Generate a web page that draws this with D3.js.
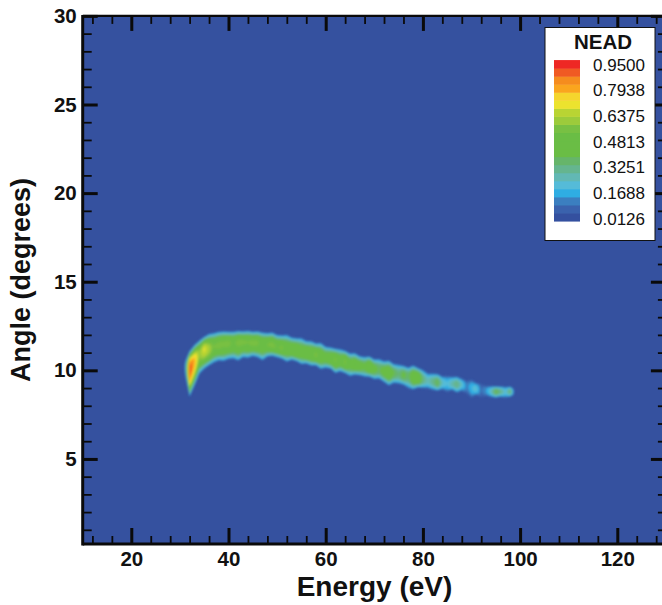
<!DOCTYPE html>
<html>
<head>
<meta charset="utf-8">
<script src="https://cdn.jsdelivr.net/npm/d3@7"></script>
<style>
html,body{margin:0;padding:0;background:#fff;overflow:hidden}
svg{display:block}
text{font-family:"Liberation Sans",Arial,sans-serif;fill:#111}
.axis path{display:none}
.axis line{stroke:#0a0a0a}
.axis text{font-size:20.5px;font-weight:bold;fill:#111}
</style>
</head>
<body>
<svg id="chart" width="662" height="605"></svg>
<script>
var xMajor=[20,40,60,80,100,120];
var xMinor=[12,16,24,28,32,36,44,48,52,56,64,68,72,76,84,88,92,96,104,108,112,116,124,128];
var yMajor=[5,10,15,20,25,30];
var yMinor=[1,2,3,4,6,7,8,9,11,12,13,14,16,17,18,19,21,22,23,24,26,27,28,29];

var energy=[31,32,33,34,35,36,37,38,39,40,41,42,43,44,45,46,47,48,49,50,51,52,53,54,55,56,57,58,59,60,61,62,63,64,65,66,67,68,69,70,71,72,73,74,75,76,77,78,79,80,81,82,83,84,85,86,87,88,89,90,91,92,93,94,95,96,97,98,99];
var ridgeAngle=[10.15,10.05,10.5,10.95,11.2,11.2,11.35,11.42,11.5,11.52,11.55,11.58,11.6,11.58,11.55,11.55,11.5,11.46,11.42,11.32,11.26,11.22,11.15,11.09,11.02,10.98,10.92,10.87,10.8,10.72,10.66,10.6,10.52,10.48,10.38,10.3,10.26,10.22,10.2,10.1,10.02,9.92,9.85,9.85,9.78,9.74,9.72,9.62,9.57,9.5,9.42,9.38,9.3,9.3,9.25,9.23,9.23,9.2,9.12,9.0,8.95,8.9,8.85,8.82,8.8,8.8,8.8,8.8,8.8];
var topAngle=[10.4,11.0,11.35,11.6,11.8,11.98,12.03,12.1,12.12,12.1,12.1,12.14,12.12,12.15,12.1,12.12,12.06,12.02,12.06,11.92,11.9,11.94,11.78,11.74,11.76,11.58,11.58,11.44,11.48,11.26,11.22,11.14,11.12,11.02,10.88,10.9,10.72,10.68,10.7,10.54,10.58,10.44,10.48,10.28,10.26,10.18,10.08,10.2,10.04,9.95,9.76,9.74,9.72,9.58,9.62,9.56,9.56,9.45,9.34,9.42,9.2,9.2,9.05,9.02,9.0,9.0,8.98,8.98,8.85];
var bottomAngle=[9.9,8.6,9.2,9.85,10.15,10.35,10.5,10.62,10.58,10.7,10.72,10.6,10.8,10.76,10.88,10.8,10.62,10.85,10.9,10.82,10.74,10.55,10.68,10.6,10.42,10.46,10.34,10.36,10.14,10.22,10.18,9.92,10.02,9.92,9.74,9.84,9.8,9.72,9.72,9.58,9.6,9.42,9.22,9.36,9.32,9.26,9.05,9.0,9.12,9.08,9.05,8.98,8.94,9.0,8.84,8.98,8.82,8.92,8.72,8.5,8.7,8.48,8.62,8.58,8.56,8.6,8.54,8.62,8.7];
var peakValue=[0.08,0.93,0.8,0.6,0.7,0.63,0.54,0.56,0.55,0.56,0.52,0.56,0.55,0.54,0.56,0.55,0.5,0.54,0.56,0.53,0.55,0.48,0.52,0.54,0.47,0.52,0.5,0.56,0.49,0.46,0.5,0.55,0.47,0.56,0.44,0.5,0.46,0.42,0.54,0.44,0.38,0.46,0.5,0.4,0.34,0.42,0.36,0.5,0.54,0.34,0.26,0.32,0.4,0.25,0.2,0.28,0.34,0.24,0.12,0.19,0.24,0.09,0.15,0.25,0.4,0.32,0.22,0.36,0];

// legend
var legendLabels=["0.9500","0.7938","0.6375","0.4813","0.3251","0.1688","0.0126"];
var legendValues=[0.95,0.7938,0.6375,0.4813,0.3251,0.1688,0.0126];
var bandColours=["#34509f","#3a62ad","#3b7fc0","#2fade3","#55bbd8","#62b8b4","#65b58f","#66b56a","#6abd45","#6abd45","#6abd45","#78c043","#9ccb3b","#b9d433","#ece32e","#f5d52d","#faa51e","#f58c1e","#f05a23","#ee2824"];
var bandStep=0.049;
var background="#35519f";

var svg=d3.select("#chart");
var x=d3.scaleLinear().domain([10,130]).range([82.7,665.9]);
var y=d3.scaleLinear().domain([0.2,30]).range([544,15.9]);
var thresholds=bandColours.map(function(c,i){return i*bandStep;});
var edgePad=0.14;

svg.append("rect").attr("x",x(10)).attr("y",y(30)).attr("width",x(130)-x(10)).attr("height",y(0.2)-y(30)).attr("fill",background);

svg.append("defs").append("filter").attr("id","soft").attr("x","-5%").attr("y","-20%").attr("width","110%").attr("height","140%")
	.append("feGaussianBlur").attr("stdDeviation",0.8);

// value at a point between the read columns
function field(e,a)
{
	var i=Math.min(energy.length-2,Math.max(0,Math.floor(e-energy[0])));
	var f=e-energy[i];
	if(f<0||f>1) return 0;
	function mix(arr){return arr[i]+(arr[i+1]-arr[i])*f;}
	var r=mix(ridgeAngle),t=mix(topAngle)+edgePad,b=mix(bottomAngle)-edgePad,p=mix(peakValue);
	var d=a>r?(a-r)/Math.max(t-r,0.01):(r-a)/Math.max(r-b,0.01);
	if(d>=1) return 0;
	return p*(1-Math.pow(d,2.2));
}

var e0=30,a0=8,dE=0.2,dA=0.02;
var nx=Math.round(70/dE)+1,ny=Math.round(5/dA)+1;
var grid=new Array(nx*ny);
for(var j=0;j<ny;j++)
{
	for(var i=0;i<nx;i++)
	{
		grid[j*nx+i]=field(e0+i*dE,a0+j*dA);
	}
}

var contours=d3.contours().size([nx,ny]).thresholds(thresholds.slice(1))(grid);
var path=d3.geoPath(d3.geoTransform({point:function(px,py){
	this.stream.point(x(e0+(px-0.5)*dE),y(a0+(py-0.5)*dA));
}}));

svg.append("g").attr("filter","url(#soft)")
	.selectAll("path").data(contours).enter().append("path")
	.attr("d",path)
	.attr("fill",function(d,i){return bandColours[i+1];});

// axes, ticks point inward on all four sides
function addAxis(maker,scale,values,size,tx,ty,pad)
{
	var ax=maker(scale).tickValues(values).tickSizeInner(-size).tickSizeOuter(0).tickPadding(pad||0);
	if(!pad) ax.tickFormat("");
	var g=svg.append("g").attr("class","axis").attr("transform","translate("+tx+","+ty+")").call(ax);
	g.selectAll("line").attr("stroke-width",size>10?3:1.8);
	return g;
}
addAxis(d3.axisBottom,x,xMinor,8,0,y(0.2));
addAxis(d3.axisBottom,x,xMajor,16,0,y(0.2),7);
addAxis(d3.axisTop,x,xMinor,8,0,y(30));
addAxis(d3.axisTop,x,xMajor,15,0,y(30));
addAxis(d3.axisLeft,y,yMinor,9,x(10),0);
addAxis(d3.axisLeft,y,yMajor,15,x(10),0,6);
addAxis(d3.axisRight,y,yMinor,8,x(130),0);
addAxis(d3.axisRight,y,yMajor,15,x(130),0);

// frame
function spine(x1,y1,x2,y2,w)
{
	svg.append("line").attr("x1",x1).attr("y1",y1).attr("x2",x2).attr("y2",y2).attr("stroke","#0a0a0a").attr("stroke-width",w);
}
spine(x(10),y(30)-1,x(10),y(0.2)+1.5,3);
spine(x(10),y(0.2),x(130),y(0.2),3);
spine(x(10),y(30),x(130),y(30),2.2);

svg.append("text").attr("x",374.5).attr("y",596).attr("text-anchor","middle")
	.attr("font-size",28).attr("font-weight","bold").text("Energy (eV)");
svg.append("text").attr("transform","translate(30,280) rotate(-90)").attr("text-anchor","middle")
	.attr("font-size",27).attr("font-weight","bold").text("Angle (degrees)");

// legend box
var lg=svg.append("g");
lg.append("rect").attr("x",545).attr("y",27.5).attr("width",110).attr("height",213)
	.attr("fill","#fff").attr("stroke","#111").attr("stroke-width",1);
lg.append("text").attr("x",603).attr("y",48.5).attr("text-anchor","middle")
	.attr("font-size",20.5).attr("font-weight","bold").text("NEAD");

var legendY=d3.scaleLinear().domain([0.0126,0.95]).range([219,65]);
lg.selectAll("rect.band").data(bandColours).enter().append("rect").attr("class","band")
	.attr("x",554).attr("width",26)
	.attr("y",function(d,i){return legendY((i+1)*bandStep);})
	.attr("height",function(d,i){return legendY(i*bandStep)-legendY((i+1)*bandStep)+0.5;})
	.attr("fill",function(d){return d;});
lg.selectAll("text.tick").data(legendValues).enter().append("text").attr("class","tick")
	.attr("x",593).attr("y",function(d){return legendY(d)+5.5;})
	.attr("font-size",17).attr("fill","#222")
	.text(function(d,i){return legendLabels[i];});
</script>
</body>
</html>
